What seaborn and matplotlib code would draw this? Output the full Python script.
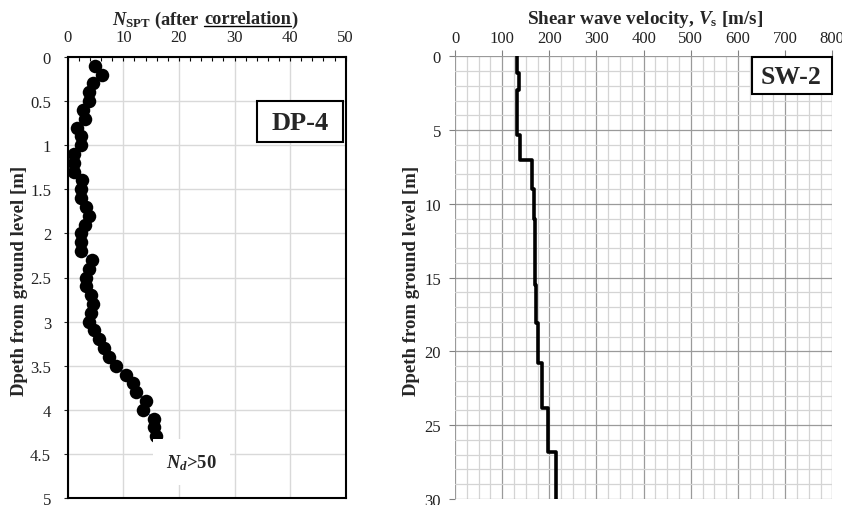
import numpy as np
import pandas as pd
import matplotlib
matplotlib.use("Agg")
import matplotlib.pyplot as plt
import seaborn as sns
from matplotlib.ticker import MultipleLocator, FuncFormatter
from matplotlib.lines import Line2D
from matplotlib.patches import Rectangle

# ---------------- data ----------------
depth_dp = [0.1, 0.2, 0.3, 0.4, 0.5, 0.6, 0.7, 0.8, 0.9, 1.0, 1.1, 1.2, 1.3, 1.4,
            1.5, 1.6, 1.7, 1.8, 1.9, 2.0, 2.1, 2.2, 2.3, 2.4, 2.5, 2.6, 2.7, 2.8,
            2.9, 3.0, 3.1, 3.2, 3.3, 3.4, 3.5, 3.6, 3.7, 3.8, 3.9, 4.0, 4.1, 4.2, 4.3]
n_spt = [4.9, 6.1, 4.6, 3.9, 3.9, 2.8, 3.1, 1.7, 2.4, 2.4, 1.1, 1.1, 1.1, 2.5,
         2.4, 2.4, 3.3, 3.9, 3.1, 2.4, 2.4, 2.4, 4.3, 3.9, 3.3, 3.3, 4.2, 4.6,
         4.2, 3.9, 4.8, 5.7, 6.6, 7.5, 8.7, 10.5, 11.8, 12.3, 14.1, 13.5, 15.6, 15.6, 15.9]

layer_top = [0.0, 1.1, 2.3, 5.3, 7.0, 9.0, 11.0, 15.5, 18.1, 20.8, 23.8, 26.8]
layer_bottom = [1.1, 2.3, 5.3, 7.0, 9.0, 11.0, 15.5, 18.1, 20.8, 23.8, 26.8, 30.0]
vs = [132, 135, 132, 138, 164, 167, 169, 171, 177, 184, 197, 214]

x1_ticks = [0, 10, 20, 30, 40, 50]
y1_ticks = [0, 0.5, 1, 1.5, 2, 2.5, 3, 3.5, 4, 4.5, 5]
x2_ticks = [0, 100, 200, 300, 400, 500, 600, 700, 800]
y2_ticks = [0, 5, 10, 15, 20, 25, 30]

label_dp = "DP-4"
label_sw = "SW-2"
note_text = r"$N_d$>50"
ylabel_text = "Dpeth from ground level [m]"

# ---------------- style ----------------
sns.set_style("white")
plt.rcParams["font.family"] = ["Liberation Serif", "DejaVu Serif"]
plt.rcParams["mathtext.fontset"] = "custom"
plt.rcParams["mathtext.it"] = "Liberation Serif:italic:bold"
plt.rcParams["mathtext.bf"] = "Liberation Serif:bold"
plt.rcParams["mathtext.rm"] = "Liberation Serif:bold"

W, H = 842, 506
fig = plt.figure(figsize=(W / 100, H / 100), dpi=100)
fig.patch.set_facecolor("white")


def rect(l, t, r, b):
    return [l / W, 1 - b / H, (r - l) / W, (b - t) / H]


ax1 = fig.add_axes(rect(67.7, 58, 345.7, 499))
ax2 = fig.add_axes(rect(455, 57.3, 832.3, 500))

fmt = FuncFormatter(lambda v, p: f"{v:g}")
tick_col = "#222222"
tick_fs = 12

# ---------------- left panel ----------------
df1 = pd.DataFrame({"depth": depth_dp, "N": n_spt})
sns.lineplot(data=df1, x="N", y="depth", sort=False, estimator=None,
             color="#4472C4", lw=0.8, ax=ax1, zorder=2)
sns.scatterplot(data=df1, x="N", y="depth", color="black", s=95,
                linewidth=0, ax=ax1, zorder=3)
ax1.set_xlim(0, 50)
ax1.set_ylim(5, 0)
ax1.set_xticks(x1_ticks)
ax1.set_yticks(y1_ticks)
ax1.xaxis.set_minor_locator(MultipleLocator(2))
ax1.xaxis.set_major_formatter(fmt)
ax1.yaxis.set_major_formatter(fmt)
ax1.xaxis.tick_top()
ax1.grid(True, which="major", color="#d9d9d9", lw=1.0)
ax1.set_axisbelow(True)
ax1.tick_params(axis="x", which="both", direction="in", length=3, width=0.8,
                top=True, bottom=False, labeltop=True, labelbottom=False,
                pad=9, labelsize=tick_fs, labelcolor=tick_col, color="black")
ax1.tick_params(axis="y", which="major", direction="out", length=3, width=0.8,
                left=True, pad=9, labelsize=tick_fs, labelcolor=tick_col)
ax1.set_xlabel("")
ax1.set_ylabel("")
for s in ax1.spines.values():
    s.set_visible(True)
    s.set_color("black")
    s.set_linewidth(1.5)

ax1.add_patch(Rectangle((0.681, 0.807), 0.309, 0.093, transform=ax1.transAxes,
                        facecolor="white", edgecolor="black", lw=1.5, zorder=5))
ax1.text(0.8356, 0.852, label_dp, transform=ax1.transAxes, ha="center", va="center",
         fontsize=19, fontweight="bold", zorder=6)
ax1.text(0.445, 0.082, note_text, transform=ax1.transAxes, ha="center", va="center",
         fontsize=13.3, fontweight="bold", zorder=6,
         bbox=dict(boxstyle="square,pad=0.7", facecolor="white", edgecolor="none"))

# ---------------- right panel ----------------
xs, ys = [], []
for v, t, b in zip(vs, layer_top, layer_bottom):
    xs += [v, v]
    ys += [t, b]
df2 = pd.DataFrame({"Vs": xs, "depth": ys})
sns.lineplot(data=df2, x="Vs", y="depth", sort=False, estimator=None,
             color="black", lw=2.6, ax=ax2, zorder=3)
ax2.set_xlim(0, 800)
ax2.set_ylim(30, 0)
ax2.set_xticks(x2_ticks)
ax2.set_yticks(y2_ticks)
ax2.xaxis.set_minor_locator(MultipleLocator(25))
ax2.yaxis.set_minor_locator(MultipleLocator(1))
ax2.xaxis.set_major_formatter(fmt)
ax2.yaxis.set_major_formatter(fmt)
ax2.xaxis.tick_top()
ax2.grid(True, which="minor", color="#d4d4d4", lw=0.9)
ax2.grid(True, which="major", color="#9a9a9a", lw=0.9)
ax2.set_axisbelow(True)
ax2.tick_params(axis="x", which="major", direction="out", length=4, width=0.8,
                top=True, bottom=False, labeltop=True, labelbottom=False,
                pad=3.3, labelsize=tick_fs, labelcolor=tick_col, color="#808080")
ax2.tick_params(axis="x", which="minor", length=0)
ax2.tick_params(axis="y", which="major", direction="out", length=4, width=0.8,
                left=True, pad=6, labelsize=tick_fs, labelcolor=tick_col, color="#808080")
ax2.tick_params(axis="y", which="minor", length=0)
ax2.set_xlabel("")
ax2.set_ylabel("")
for s in ax2.spines.values():
    s.set_visible(False)

ax2.add_patch(Rectangle((0.786, 0.915), 0.2136, 0.0836, transform=ax2.transAxes,
                        facecolor="white", edgecolor="black", lw=1.5, zorder=5,
                        clip_on=False))
ax2.text(0.892, 0.955, label_sw, transform=ax2.transAxes, ha="center", va="center",
         fontsize=18.5, fontweight="bold", zorder=6)

# ---------------- labels ----------------
fig.text(20 / W, 1 - 281 / H, ylabel_text, rotation=90, ha="center", va="center",
         fontsize=13.5, fontweight="bold")
fig.text(412 / W, 1 - 281 / H, ylabel_text, rotation=90, ha="center", va="center",
         fontsize=13.5, fontweight="bold")

fig.text(645 / W, 1 - 24.5 / H, r"Shear wave velocity, $V_\mathrm{s}$ [m/s]",
         ha="center", va="baseline", fontsize=13.8, fontweight="bold")

# left title with underlined word
renderer = fig.canvas.get_renderer()
title_fs = 13.2
parts = [r"$N_\mathbf{SPT}$ (after", "correlation", ")"]
tA = fig.text(0, 0, parts[0], fontsize=title_fs, fontweight="bold", va="baseline")
tB = fig.text(0, 0, parts[1], fontsize=title_fs, fontweight="bold", va="baseline")
tC = fig.text(0, 0, parts[2], fontsize=title_fs, fontweight="bold", va="baseline")
t_xx = fig.text(0, 0, "xx", fontsize=title_fs, fontweight="bold")
t_x_x = fig.text(0, 0, "x x", fontsize=title_fs, fontweight="bold")
wA = tA.get_window_extent(renderer).width
wB = tB.get_window_extent(renderer).width
wC = tC.get_window_extent(renderer).width
gap = t_x_x.get_window_extent(renderer).width - t_xx.get_window_extent(renderer).width
t_xx.remove()
t_x_x.remove()
total = wA + gap + wB + wC
cx = 204.5
base_y = 24.5
x0 = cx - total / 2
tA.set_position((x0 / W, 1 - base_y / H))
xB = x0 + wA + gap
tB.set_position((xB / W, 1 - base_y / H))
xC = xB + wB
tC.set_position((xC / W, 1 - base_y / H))
fig.add_artist(Line2D([xB / W, xC / W], [1 - 27.2 / H, 1 - 27.2 / H],
                      color="black", lw=1.0, transform=fig.transFigure))

fig.savefig("out.png", dpi=100, facecolor="white")
